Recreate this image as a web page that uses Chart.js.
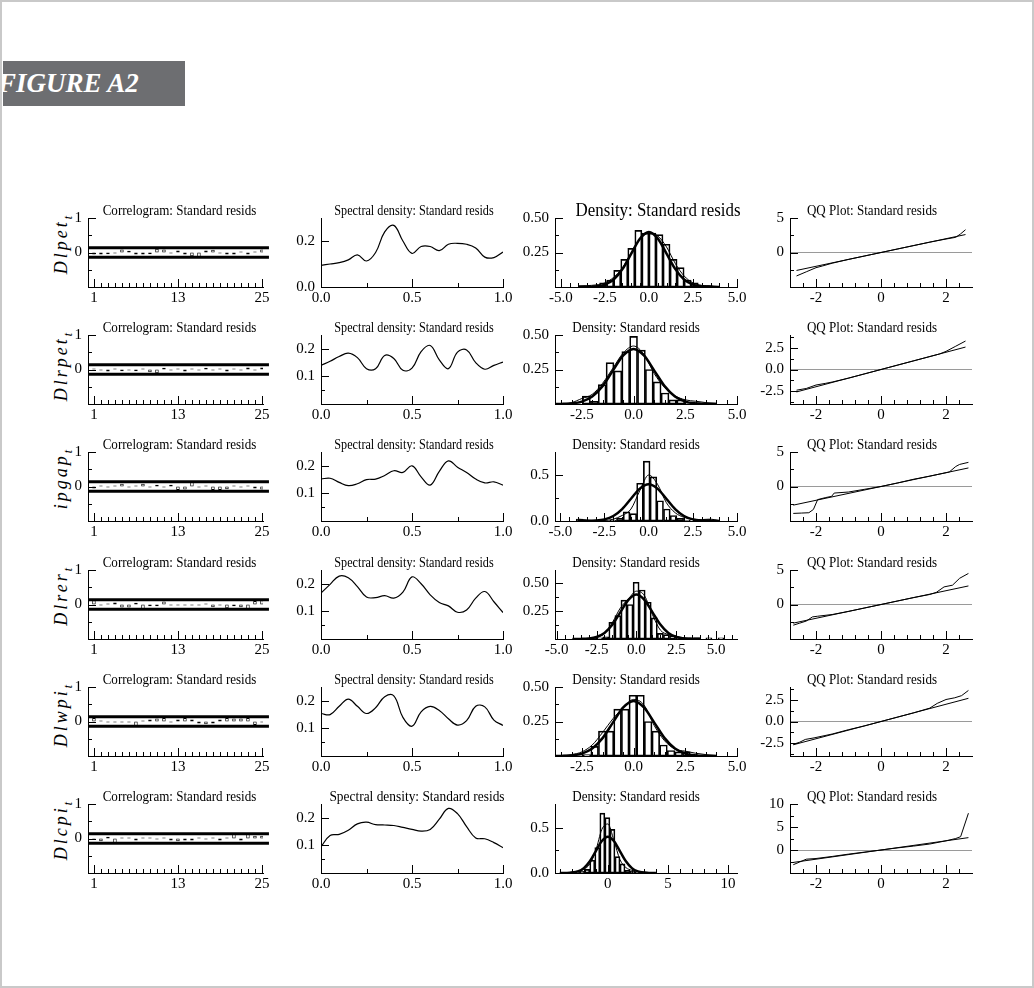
<!DOCTYPE html>
<html>
<head>
<meta charset="utf-8">
<title>Figure A2</title>
<script src="https://cdn.jsdelivr.net/npm/chart.js@4.4.1/dist/chart.umd.min.js"></script>
<style>
  html, body { margin: 0; padding: 0; background: #fff; }
  #page { position: relative; width: 1034px; height: 988px; overflow: hidden; }
  #frame { position: absolute; left: 0; top: 0; width: 1034px; height: 988px; box-sizing: border-box; border: 2px solid #c9c9c9; }
  #banner { position: absolute; left: 3px; top: 61px; width: 182px; height: 45px; background: #6d6e71; overflow: hidden; }
  #banner span { position: absolute; left: -5px; top: 0; font: italic bold 27px/45px "Liberation Serif", serif; color: #fff; white-space: nowrap; }
  canvas { position: absolute; }
  .rowlab { position: absolute; left: 52px; font: italic 18px/1 "Liberation Serif", serif; letter-spacing: 3px; white-space: nowrap;
            transform-origin: 0 0; transform: rotate(-90deg) translateX(-100%); }
  .rowlab sub { font-size: 12px; letter-spacing: 0; vertical-align: -5px; }
</style>
</head>
<body>
<div id="page">
  <div id="frame"></div>
  <div id="banner"><span>FIGURE A2</span></div>
</div>
<script>
// ---------- data ----------
const rowNames = ['Dlpet', 'Dlrpet', 'ipgap', 'Dlrer', 'Dlwpi', 'Dlcpi'];

// correlograms, lags 1..25, with the +/- band
const lags = [1,2,3,4,5,6,7,8,9,10,11,12,13,14,15,16,17,18,19,20,21,22,23,24,25];
const acfBand = [0.14, -0.14];
const bandSpan = [0.15, 26];
const acfDlpet  = [-0.06,-0.06,-0.05,-0.03,0.09,0.05,-0.06,-0.06,-0.05,0.11,0.09,-0.03,0.06,-0.06,-0.11,-0.13,0.06,0.08,-0.03,-0.06,-0.06,0.03,-0.06,0.03,0.09];
const acfDlrpet = [0.03,-0.03,-0.06,0.03,-0.05,-0.03,-0.05,0.03,-0.08,-0.11,0.05,-0.03,0.03,-0.06,0.03,-0.03,0.05,-0.03,0.03,-0.06,0.03,-0.03,0.06,-0.03,0.06];
const acfIpgap  = [-0.06,0.03,-0.03,0.03,0.08,-0.03,0.03,0.08,-0.03,0.05,-0.03,0.05,-0.10,-0.09,0.15,-0.03,0.03,-0.10,-0.10,-0.08,0.03,-0.03,0.03,-0.06,-0.09];
const acfDlrer  = [0.12,-0.03,0.03,0.06,-0.09,-0.09,0.05,-0.14,-0.05,-0.05,0.09,-0.03,-0.03,-0.03,-0.03,-0.03,0.03,-0.08,-0.03,-0.11,-0.05,-0.08,-0.16,0.10,0.12];
const acfDlwpi  = [0.10,0.03,-0.03,-0.03,-0.03,-0.03,-0.16,0.03,0.06,0.09,0.10,-0.03,0.06,0.10,0.06,-0.06,-0.08,-0.06,0.06,0.10,0.09,0.09,0.10,-0.10,-0.03];
const acfDlcpi  = [-0.03,-0.08,0.05,-0.15,0.03,0.03,-0.06,0.03,0.03,-0.03,0.03,-0.06,-0.08,-0.06,-0.06,0.03,-0.03,0.03,-0.06,0.03,0.14,-0.06,0.15,0.08,0.08];

// spectral densities
const freq = [0,0.05,0.1,0.15,0.2,0.25,0.3,0.35,0.4,0.45,0.5,0.55,0.6,0.65,0.7,0.75,0.8,0.85,0.9,0.95,1];
const specDlpet  = [0.094,0.100,0.106,0.118,0.140,0.113,0.150,0.240,0.268,0.200,0.146,0.176,0.176,0.158,0.186,0.190,0.186,0.170,0.130,0.128,0.152];
const specDlrpet = [0.140,0.155,0.172,0.184,0.168,0.128,0.128,0.176,0.165,0.122,0.130,0.190,0.212,0.160,0.128,0.188,0.196,0.150,0.126,0.140,0.152];
const specIpgap  = [0.152,0.155,0.140,0.128,0.135,0.150,0.152,0.165,0.182,0.176,0.200,0.160,0.130,0.180,0.218,0.195,0.176,0.152,0.138,0.142,0.130];
const specDlrer  = [0.166,0.198,0.228,0.222,0.190,0.152,0.150,0.157,0.148,0.170,0.225,0.200,0.160,0.132,0.120,0.097,0.105,0.148,0.172,0.135,0.096];
const specDlwpi  = [0.154,0.150,0.180,0.206,0.180,0.154,0.175,0.215,0.218,0.140,0.108,0.160,0.180,0.165,0.135,0.112,0.128,0.180,0.178,0.130,0.111];
const specDlcpi  = [0.095,0.136,0.140,0.155,0.178,0.184,0.175,0.174,0.172,0.165,0.158,0.152,0.158,0.195,0.234,0.215,0.168,0.127,0.124,0.110,0.092];

// densities: histogram bin centres and heights
const binsDlpet  = [-3.8,-3.4,-3.0,-2.6,-2.2,-1.8,-1.4,-1.0,-0.6,-0.2,0.2,0.6,1.0,1.4,1.8,2.2,2.6,3.0,3.4];
const histDlpet  = [0.01,0,0.01,0.03,0.05,0.12,0.20,0.28,0.41,0.39,0.39,0.38,0.31,0.20,0.14,0.05,0.03,0,0.01];
const binsDlrpet = [-2.28,-1.9,-1.52,-1.14,-0.76,-0.38,0,0.38,0.76,1.14,1.52,1.9,2.28,2.66,3.04];
const histDlrpet = [0.057,0.02,0.14,0.30,0.24,0.38,0.49,0.39,0.25,0.16,0.08,0.03,0.03,0.01,0.01];
const binsIpgap  = [-3.91,-3.53,-3.15,-2.77,-2.39,-2.01,-1.63,-1.25,-0.87,-0.49,-0.11,0.27,0.65,1.03,1.41,1.79,2.17,2.55,2.93,3.31];
const histIpgap  = [0.02,0,0,0,0,0.01,0.03,0.10,0.08,0.41,0.65,0.48,0.22,0.13,0.06,0.03,0.01,0,0,0.02];
const binsDlrer  = [-2.68,-2.3,-1.92,-1.54,-1.16,-0.78,-0.4,-0.02,0.36,0.74,1.12,1.5,1.88,2.26,2.64,3.02,3.4,3.78,4.16,4.54,4.92,5.3];
const histDlrer  = [0.01,0.01,0.02,0.15,0.21,0.35,0.31,0.51,0.44,0.33,0.19,0.05,0.04,0.03,0.01,0,0,0.01,0,0.01,0,0.01];
const binsDlwpi  = [-2.625,-2.255,-1.885,-1.515,-1.145,-0.775,-0.405,-0.035,0.335,0.705,1.075,1.445,1.815,2.185,2.555,2.925];
const histDlwpi  = [0.01,0.01,0.07,0.18,0.18,0.34,0.34,0.44,0.44,0.25,0.18,0.08,0.04,0.03,0.03,0.01];
const binsDlcpi  = [-2.56,-2.14,-1.72,-1.3,-0.88,-0.46,-0.04,0.38,0.8,1.22,1.64,2.06,2.48,2.9];
const histDlcpi  = [0.01,0.02,0.04,0.14,0.28,0.66,0.61,0.48,0.18,0.10,0.03,0.02,0.01,0.01];

// kernel density (thin) and normal reference (thick)
const kdeX = [-4,-3.5,-3,-2.5,-2,-1.5,-1,-0.5,0,0.5,1,1.5,2,2.5,3,3.5,4];
const kdeDlpet  = [0.005,0.01,0.015,0.03,0.07,0.14,0.25,0.35,0.39,0.37,0.29,0.17,0.08,0.03,0.012,0.008,0.003];
const kdeDlrpet = [0,0.002,0.01,0.04,0.07,0.15,0.26,0.37,0.42,0.36,0.22,0.12,0.06,0.03,0.02,0.01,0.005];
const kdeIpgap  = [0.02,0.012,0.005,0.005,0.02,0.06,0.13,0.33,0.50,0.40,0.20,0.09,0.04,0.02,0.015,0.02,0.005];
const kdeDlrer  = [0.002,0.003,0.005,0.015,0.05,0.15,0.28,0.36,0.43,0.39,0.22,0.08,0.04,0.025,0.01,0.008,0.008];
const kdeDlwpi  = [0,0.003,0.01,0.03,0.08,0.17,0.27,0.35,0.41,0.37,0.22,0.11,0.05,0.035,0.02,0.01,0.004];
const kdeDlcpi  = [0,0,0.01,0.02,0.04,0.10,0.25,0.48,0.54,0.36,0.15,0.06,0.03,0.015,0.01,0.005,0];
const normalY   = [0.0001,0.0009,0.0044,0.0175,0.054,0.1295,0.242,0.352,0.399,0.352,0.242,0.1295,0.054,0.0175,0.0044,0.0009,0.0001];

// QQ plots: normal quantile vs sample quantile
const qqXDlpet  = [-2.6,-2.3,-2.0,-1.8,-1.5,-1.0,-0.5,0,0.5,1.0,1.5,2.0,2.3,2.45,2.6];
const qqYDlpet  = [-3.4,-2.8,-2.2,-1.95,-1.55,-1.0,-0.5,0,0.5,1.0,1.5,1.95,2.2,2.7,3.3];
const qqXDlrpet = [-2.6,-2.3,-2.0,-1.7,-1.5,-1,-0.5,0,0.5,1,1.5,1.8,2.0,2.3,2.6];
const qqYDlrpet = [-2.4,-2.2,-1.8,-1.6,-1.45,-1.0,-0.5,0,0.5,1.0,1.5,1.8,2.1,2.7,3.3];
const qqXIpgap  = [-2.7,-2.45,-2.22,-2.08,-1.95,-1.7,-1.52,-1.44,-1.0,-0.5,0,0.5,1.0,1.5,2.0,2.1,2.3,2.42,2.69];
const qqYIpgap  = [-3.9,-3.85,-3.8,-3.33,-1.9,-1.6,-1.43,-0.95,-0.8,-0.4,0,0.5,1.05,1.5,2.0,2.1,2.9,3.2,3.5];
const qqXDlrer  = [-2.7,-2.5,-2.3,-2.11,-1.95,-1.5,-1,-0.5,0,0.5,1,1.5,1.7,1.94,2.2,2.42,2.69];
const qqYDlrer  = [-3.0,-2.7,-2.4,-1.8,-1.7,-1.45,-1.0,-0.5,0,0.5,1.0,1.45,1.75,2.55,2.8,3.8,4.5];
const qqXDlwpi  = [-2.7,-2.5,-2.33,-2.06,-1.5,-1,-0.5,0,0.5,1,1.5,1.73,2.0,2.27,2.48,2.69];
const qqYDlwpi  = [-2.65,-2.4,-2.08,-1.9,-1.45,-0.95,-0.5,0,0.5,1.0,1.55,2.1,2.55,2.75,3.0,3.6];
const qqXDlcpi  = [-2.7,-2.5,-2.3,-2,-1.5,-1,-0.5,0,0.5,1,1.5,2,2.3,2.45,2.69];
const qqYDlcpi  = [-3.2,-2.6,-2.0,-1.85,-1.4,-0.9,-0.45,0,0.45,0.85,1.3,2.0,2.5,2.9,8.0];

const series = [
  { acf: acfDlpet,  spec: specDlpet,  bins: binsDlpet,  hist: histDlpet,  kde: kdeDlpet,  qqx: qqXDlpet,  qqy: qqYDlpet },
  { acf: acfDlrpet, spec: specDlrpet, bins: binsDlrpet, hist: histDlrpet, kde: kdeDlrpet, qqx: qqXDlrpet, qqy: qqYDlrpet },
  { acf: acfIpgap,  spec: specIpgap,  bins: binsIpgap,  hist: histIpgap,  kde: kdeIpgap,  qqx: qqXIpgap,  qqy: qqYIpgap },
  { acf: acfDlrer,  spec: specDlrer,  bins: binsDlrer,  hist: histDlrer,  kde: kdeDlrer,  qqx: qqXDlrer,  qqy: qqYDlrer },
  { acf: acfDlwpi,  spec: specDlwpi,  bins: binsDlwpi,  hist: histDlwpi,  kde: kdeDlwpi,  qqx: qqXDlwpi,  qqy: qqYDlwpi },
  { acf: acfDlcpi,  spec: specDlcpi,  bins: binsDlcpi,  hist: histDlcpi,  kde: kdeDlcpi,  qqx: qqXDlcpi,  qqy: qqYDlcpi }
];

// ---------- axis settings per panel ----------
const specAxes = [
  { max: 0.3,  labels: [0, 0.2],   minor: [] },
  { max: 0.25, labels: [0.1, 0.2], minor: [0.05] },
  { max: 0.25, labels: [0.1, 0.2], minor: [0.05] },
  { max: 0.25, labels: [0.1, 0.2], minor: [0.05] },
  { max: 0.25, labels: [0.1, 0.2], minor: [0.05] },
  { max: 0.25, labels: [0.1, 0.2], minor: [0.05] }
];
const densAxes = [
  { xmin: -5.33, xmax: 5,     xl: [-5, -2.5, 0, 2.5, 5], xdec: 1, step: 0.5, ymax: 0.5,  yl: [0.25, 0.5], ydec: 2, ym: [0.125, 0.375] },
  { xmin: -3.8,  xmax: 5,     xl: [-2.5, 0, 2.5, 5],     xdec: 1, step: 0.5, ymax: 0.5,  yl: [0.25, 0.5], ydec: 2, ym: [0.125, 0.375] },
  { xmin: -5.3,  xmax: 5,     xl: [-5, -2.5, 0, 2.5, 5], xdec: 1, step: 0.5, ymax: 0.75, yl: [0, 0.5],    ydec: 1, ym: [0.25] },
  { xmin: -5.1,  xmax: 6.3,   xl: [-5, -2.5, 0, 2.5, 5], xdec: 1, step: 0.5, ymax: 0.62, yl: [0.25, 0.5], ydec: 2, ym: [0.125, 0.375] },
  { xmin: -3.8,  xmax: 5,     xl: [-2.5, 0, 2.5, 5],     xdec: 1, step: 0.5, ymax: 0.5,  yl: [0.25, 0.5], ydec: 2, ym: [0.125, 0.375] },
  { xmin: -4.4,  xmax: 10.75, xl: [0, 5, 10],            xdec: 0, step: 1,   ymax: 0.76, yl: [0, 0.5],    ydec: 1, ym: [0.25] }
];
const qqAxes = [
  { min: -5, max: 5,  labels: [0, 5],         dec: 0, minor: [-2.5, 2.5] },
  { min: -4, max: 4,  labels: [-2.5, 0, 2.5], dec: 1, minor: [-3.75, -1.25, 1.25, 3.75] },
  { min: -5, max: 5,  labels: [0, 5],         dec: 0, minor: [-2.5, 2.5] },
  { min: -5, max: 5,  labels: [0, 5],         dec: 0, minor: [-2.5, 2.5] },
  { min: -4, max: 4,  labels: [-2.5, 0, 2.5], dec: 1, minor: [-3.75, -1.25, 1.25, 3.75] },
  { min: -5, max: 10, labels: [0, 5, 10],     dec: 0, minor: [-2.5, 2.5, 7.5] }
];
const qqMinorX = [-2.4, -1.6, -1.2, -0.8, -0.4, 0.4, 0.8, 1.2, 1.6, 2.4];

// ---------- page geometry ----------
const COL_X = [88, 321, 555, 790];
const COL_W = [175, 182, 182, 182];
const ROW_Y = 218, ROW_STEP = 117.2, PLOT_H = 69;
const AXIS_W = 48, AXIS_H = 26, TITLE_H = 30, PAD_R = 22;

const titles = ['Correlogram: Standard resids', 'Spectral density: Standard resids', 'Density: Standard resids', 'QQ Plot: Standard resids'];
const titleSize = [15, 14, 15, 15];
const titleDx = [4, 2, -10, -9];

const FONT = { family: '"Liberation Serif", "Times New Roman", serif', size: 15 };

// title drawn centred over the plot area, slightly condensed like the original
Chart.register({
  id: 'panelTitle',
  afterDraw(chart, args, opts) {
    if (!opts.text) return;
    const { ctx, chartArea: a } = chart;
    ctx.save();
    ctx.font = opts.size + 'px "Liberation Serif"';
    ctx.fillStyle = '#000';
    ctx.textAlign = 'center';
    ctx.textBaseline = 'alphabetic';
    ctx.translate((a.left + a.right) / 2 + opts.dx, a.top - opts.gap);
    ctx.scale(0.87, 1);
    ctx.fillText(opts.text, 0, 0);
    ctx.restore();
  }
});

// tick marks pointing into the plot, long for labelled ticks, short otherwise
Chart.register({
  id: 'inTicks',
  afterDraw(chart, args, opts) {
    if (!opts.xMajor) return;
    const { ctx, chartArea: a, scales: { x, y } } = chart;
    ctx.save();
    ctx.strokeStyle = '#000';
    ctx.lineWidth = 1;
    ctx.beginPath();
    const tx = (vals, len) => vals.forEach(v => {
      if (v < x.min || v > x.max) return;
      const p = Math.round(x.getPixelForValue(v)) + 0.5;
      ctx.moveTo(p, a.bottom); ctx.lineTo(p, a.bottom - len);
    });
    const ty = (vals, len) => vals.forEach(v => {
      if (v < y.min || v > y.max) return;
      const p = Math.round(y.getPixelForValue(v)) + 0.5;
      ctx.moveTo(a.left, p); ctx.lineTo(a.left + len, p);
    });
    tx(opts.xMajor, 8); tx(opts.xMinor, 4);
    ty(opts.yMajor, 8); ty(opts.yMinor, 4);
    ctx.stroke();
    ctx.restore();
  }
});

function axis(min, max, labels, dec, isX) {
  return {
    type: 'linear', min, max, offset: false,
    grid: { display: false, drawTicks: false },
    border: { color: '#000', width: 1 },
    ticks: { color: '#000', font: FONT, autoSkip: false, maxRotation: 0, padding: isX ? 2 : 6,
             callback: v => v.toFixed(dec) },
    afterBuildTicks: s => { s.ticks = labels.map(v => ({ value: v })); },
    afterFit: s => { if (isX) s.height = AXIS_H; else s.width = AXIS_W; }
  };
}

function minorSteps(min, max, step, majors) {
  const out = [];
  for (let v = Math.ceil(min / step) * step; v <= max + 1e-9; v += step) {
    const r = Math.round(v * 1000) / 1000;
    if (!majors.some(m => Math.abs(m - r) < 1e-6)) out.push(r);
  }
  return out;
}

function pts(xs, ys) { return xs.map((v, i) => ({ x: v, y: ys[i] })); }

function panel(col, row, config, ticks, title) {
  const page = document.getElementById('page');
  const c = document.createElement('canvas');
  c.width = AXIS_W + COL_W[col] + PAD_R;
  c.height = TITLE_H + PLOT_H + AXIS_H;
  c.style.left = (COL_X[col] - AXIS_W) + 'px';
  c.style.top = (Math.round(ROW_Y + ROW_STEP * row) - TITLE_H) + 'px';
  page.appendChild(c);
  config.options = Object.assign({
    responsive: false, animation: false, events: [], devicePixelRatio: 1,
    layout: { padding: { top: TITLE_H, right: PAD_R, left: 0, bottom: 0 } },
    plugins: { legend: { display: false }, tooltip: { enabled: false }, inTicks: ticks, panelTitle: title }
  }, config.options);
  new Chart(c, config);
}

function titleFor(col, row) {
  let size = titleSize[col], dx = titleDx[col], gap = 3;
  if (col === 2 && row === 0) { size = 19.4; dx = 12; gap = 2; }
  if (col === 1 && row === 5) { size = 15.4; dx = 5; }
  return { text: titles[col], size, dx, gap };
}

const line = (data, width) => ({ type: 'line', data, borderColor: '#000', borderWidth: width, pointRadius: 0, fill: false });

series.forEach((s, r) => {
  // row label
  const lab = document.createElement('div');
  lab.className = 'rowlab';
  lab.style.top = (Math.round(ROW_Y + ROW_STEP * r) - 2) + 'px';
  lab.innerHTML = rowNames[r] + '<sub>t</sub>';
  document.getElementById('page').appendChild(lab);

  // correlogram
  panel(0, r, {
    type: 'bar',
    data: { datasets: [
      Object.assign(line(pts(bandSpan, [acfBand[0], acfBand[0]]), 3), { clip: false }),
      Object.assign(line(pts(bandSpan, [acfBand[1], acfBand[1]]), 3), { clip: false }),
      { data: pts(lags, s.acf), backgroundColor: '#fff', borderColor: '#000', borderWidth: 1,
        borderSkipped: false, barPercentage: 0.5, categoryPercentage: 1 }
    ] },
    options: { scales: { x: axis(0.15, 25.15, [1, 13, 25], 0, true), y: axis(-1, 1, [0, 1], 0, false) } }
  }, { xMajor: [1, 13, 25], xMinor: lags.filter(l => l !== 1 && l !== 13 && l !== 25), yMajor: [1, 0], yMinor: [0.5, -0.5] },
  titleFor(0, r));

  // spectral density
  const sa = specAxes[r];
  panel(1, r, {
    type: 'line',
    data: { datasets: [Object.assign(line(pts(freq, s.spec), 1.2), { tension: 0.4 })] },
    options: { scales: { x: axis(0, 1, [0, 0.5, 1], 1, true), y: axis(0, sa.max, sa.labels, 1, false) } }
  }, { xMajor: [0.5, 1], xMinor: [0.25, 0.75], yMajor: sa.labels.filter(v => v > 0), yMinor: sa.minor },
  titleFor(1, r));

  // density + histogram
  const da = densAxes[r];
  panel(2, r, {
    type: 'bar',
    data: { datasets: [
      Object.assign(line(pts(kdeX, normalY), 2.5), { cubicInterpolationMode: 'monotone' }),
      Object.assign(line(pts(kdeX, s.kde), 1), { cubicInterpolationMode: 'monotone' }),
      { data: pts(s.bins, s.hist), backgroundColor: 'rgba(255,255,255,0)', borderColor: '#000', borderWidth: 1,
        borderSkipped: false, barPercentage: 1, categoryPercentage: 1 }
    ] },
    options: { scales: { x: axis(da.xmin, da.xmax, da.xl, da.xdec, true), y: axis(0, da.ymax, da.yl, da.ydec, false) } }
  }, { xMajor: da.xl, xMinor: minorSteps(da.xmin, da.xmax, da.step, da.xl), yMajor: da.yl.filter(v => v > 0), yMinor: da.ym },
  titleFor(2, r));

  // QQ plot
  const qa = qqAxes[r];
  const qy = axis(qa.min, qa.max, qa.labels, qa.dec, false);
  qy.grid = { display: true, drawTicks: false, lineWidth: 1,
              color: c => (c.tick && c.tick.value === 0) ? '#9a9a9a' : 'rgba(0,0,0,0)' };
  const ends = [s.qqx[0], s.qqx[s.qqx.length - 1]];
  panel(3, r, {
    type: 'line',
    data: { datasets: [line(pts(s.qqx, s.qqy), 1), line(pts(ends, ends), 1)] },
    options: { scales: { x: axis(-2.8, 2.8, [-2, 0, 2], 0, true), y: qy } }
  }, { xMajor: [-2, 0, 2], xMinor: qqMinorX, yMajor: qa.labels, yMinor: qa.minor },
  titleFor(3, r));
});
</script>
</body>
</html>
